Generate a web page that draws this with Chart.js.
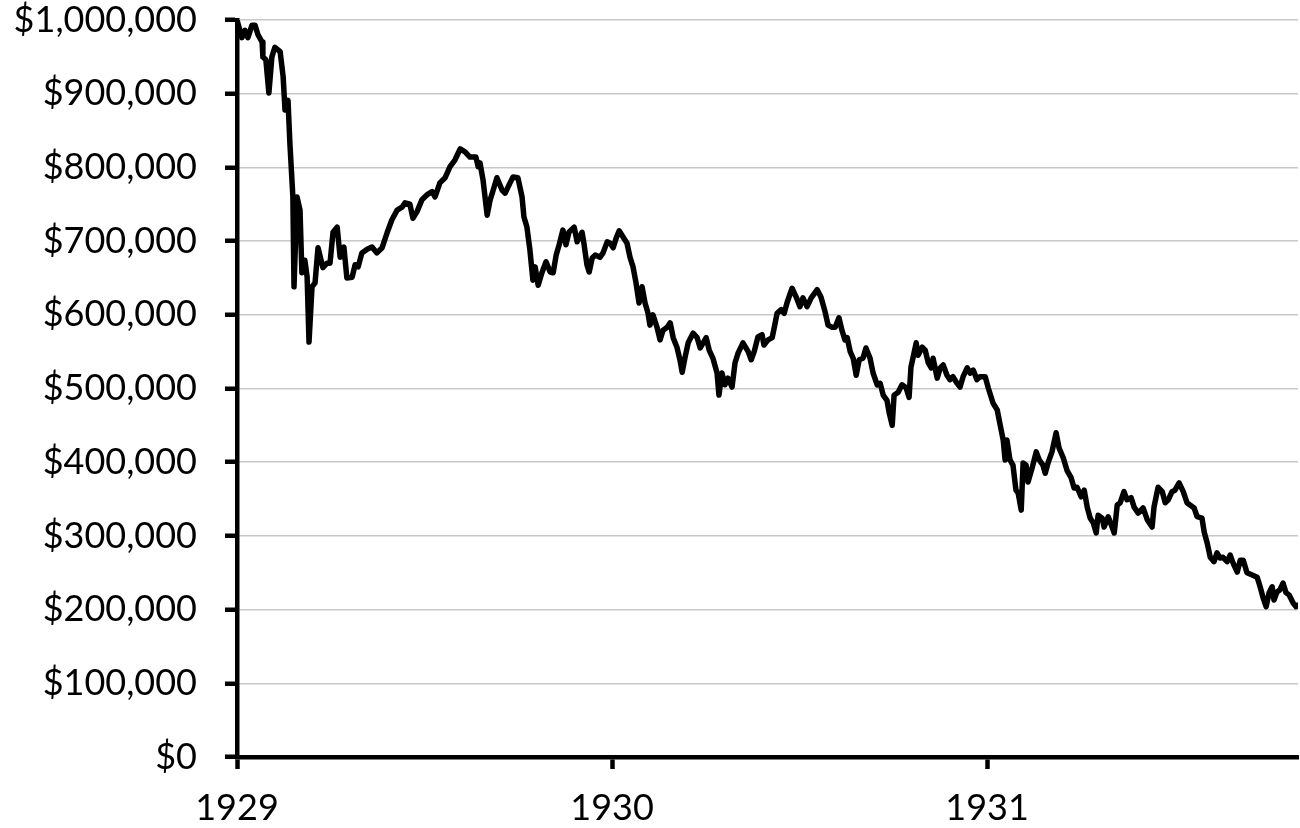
<!DOCTYPE html>
<html>
<head>
<meta charset="utf-8">
<script src="https://cdn.jsdelivr.net/npm/chart.js@4/dist/chart.umd.min.js"></script>
<style>
  html, body { margin: 0; background: #fff; }
  #wrap { width: 1300px; height: 828px; position: relative; }
</style>
</head>
<body>
<div id="wrap"><canvas id="crashChart"></canvas></div>
<script>
// value of $1,000,000 over time
const years = [
  1929.000, 1929.013, 1929.021, 1929.029, 1929.040, 1929.048, 1929.056, 1929.067, 1929.069, 1929.077,
  1929.085, 1929.093, 1929.101, 1929.115, 1929.123, 1929.128, 1929.136, 1929.141, 1929.149, 1929.152,
  1929.160, 1929.168, 1929.173, 1929.181, 1929.187, 1929.192, 1929.200, 1929.208, 1929.216, 1929.229,
  1929.240, 1929.248, 1929.256, 1929.267, 1929.275, 1929.285, 1929.293, 1929.307, 1929.315, 1929.323,
  1929.333, 1929.347, 1929.360, 1929.373, 1929.387, 1929.400, 1929.413, 1929.427, 1929.440, 1929.448,
  1929.461, 1929.469, 1929.480, 1929.493, 1929.507, 1929.520, 1929.528, 1929.541, 1929.555, 1929.568,
  1929.581, 1929.595, 1929.608, 1929.621, 1929.637, 1929.643, 1929.648, 1929.656, 1929.667, 1929.675,
  1929.683, 1929.693, 1929.707, 1929.715, 1929.728, 1929.736, 1929.749, 1929.760, 1929.765, 1929.773,
  1929.781, 1929.789, 1929.795, 1929.803, 1929.813, 1929.824, 1929.835, 1929.843, 1929.851, 1929.859,
  1929.869, 1929.877, 1929.885, 1929.899, 1929.907, 1929.920, 1929.925, 1929.933, 1929.939, 1929.947,
  1929.955, 1929.968, 1929.976, 1929.987, 1929.995, 1930.003, 1930.011, 1930.019, 1930.029, 1930.040,
  1930.048, 1930.056, 1930.064, 1930.072, 1930.080, 1930.088, 1930.096, 1930.101, 1930.109, 1930.120,
  1930.128, 1930.136, 1930.147, 1930.155, 1930.163, 1930.173, 1930.181, 1930.187, 1930.195, 1930.203,
  1930.216, 1930.227, 1930.235, 1930.243, 1930.251, 1930.259, 1930.269, 1930.280, 1930.285, 1930.293,
  1930.301, 1930.309, 1930.320, 1930.328, 1930.336, 1930.349, 1930.363, 1930.371, 1930.379, 1930.389,
  1930.400, 1930.405, 1930.416, 1930.427, 1930.435, 1930.440, 1930.451, 1930.459, 1930.467, 1930.480,
  1930.491, 1930.501, 1930.509, 1930.520, 1930.531, 1930.547, 1930.557, 1930.568, 1930.576, 1930.587,
  1930.595, 1930.605, 1930.613, 1930.621, 1930.627, 1930.635, 1930.643, 1930.651, 1930.659, 1930.669,
  1930.677, 1930.688, 1930.696, 1930.707, 1930.715, 1930.723, 1930.733, 1930.739, 1930.747, 1930.752,
  1930.763, 1930.773, 1930.784, 1930.792, 1930.797, 1930.803, 1930.811, 1930.816, 1930.827, 1930.835,
  1930.843, 1930.851, 1930.856, 1930.867, 1930.875, 1930.883, 1930.893, 1930.901, 1930.909, 1930.920,
  1930.928, 1930.936, 1930.947, 1930.955, 1930.963, 1930.973, 1930.981, 1930.995, 1931.003, 1931.016,
  1931.027, 1931.035, 1931.043, 1931.048, 1931.053, 1931.061, 1931.069, 1931.077, 1931.083, 1931.091,
  1931.096, 1931.104, 1931.109, 1931.120, 1931.131, 1931.139, 1931.149, 1931.155, 1931.163, 1931.173,
  1931.184, 1931.192, 1931.203, 1931.213, 1931.224, 1931.232, 1931.240, 1931.251, 1931.259, 1931.267,
  1931.275, 1931.283, 1931.291, 1931.296, 1931.307, 1931.312, 1931.323, 1931.331, 1931.339, 1931.347,
  1931.355, 1931.365, 1931.373, 1931.384, 1931.392, 1931.403, 1931.416, 1931.427, 1931.440, 1931.445,
  1931.456, 1931.467, 1931.475, 1931.483, 1931.493, 1931.501, 1931.512, 1931.523, 1931.533, 1931.541,
  1931.552, 1931.560, 1931.573, 1931.579, 1931.587, 1931.595, 1931.605, 1931.613, 1931.621, 1931.629,
  1931.640, 1931.648, 1931.656, 1931.667, 1931.675, 1931.683, 1931.693, 1931.707, 1931.720, 1931.728,
  1931.736, 1931.744, 1931.752, 1931.760, 1931.765, 1931.773, 1931.781, 1931.789, 1931.797, 1931.805,
  1931.816, 1931.824, 1931.829
];

const values = [
  1000000, 976000, 986000, 976000, 993000, 993000, 980000, 970000, 950000, 946000,
  901000, 950000, 963000, 957000, 923000, 878000, 891000, 833000, 760000, 638000,
  760000, 742000, 657000, 674000, 651000, 563000, 638000, 643000, 691000, 664000,
  670000, 670000, 712000, 719000, 678000, 692000, 650000, 651000, 668000, 665000,
  684000, 689000, 692000, 684000, 691000, 711000, 729000, 742000, 746000, 752000,
  750000, 731000, 740000, 756000, 763000, 767000, 760000, 779000, 786000, 801000,
  810000, 825000, 821000, 814000, 814000, 801000, 806000, 783000, 735000, 756000,
  769000, 786000, 769000, 765000, 779000, 787000, 786000, 760000, 733000, 719000,
  688000, 647000, 665000, 640000, 657000, 672000, 658000, 657000, 681000, 695000,
  715000, 695000, 712000, 719000, 699000, 712000, 697000, 668000, 658000, 677000,
  681000, 678000, 684000, 699000, 697000, 691000, 704000, 714000, 706000, 697000,
  678000, 665000, 643000, 616000, 638000, 616000, 602000, 586000, 600000, 583000,
  566000, 579000, 583000, 589000, 569000, 556000, 539000, 522000, 543000, 562000,
  575000, 569000, 555000, 562000, 569000, 552000, 541000, 521000, 491000, 521000,
  505000, 514000, 502000, 535000, 548000, 562000, 550000, 539000, 550000, 570000,
  573000, 559000, 566000, 569000, 589000, 602000, 607000, 602000, 617000, 636000,
  624000, 611000, 623000, 611000, 623000, 634000, 624000, 604000, 586000, 583000,
  583000, 596000, 579000, 566000, 569000, 550000, 541000, 518000, 539000, 541000,
  555000, 541000, 521000, 505000, 507000, 491000, 484000, 467000, 450000, 491000,
  495000, 505000, 501000, 488000, 529000, 543000, 562000, 545000, 556000, 552000,
  535000, 528000, 541000, 514000, 528000, 532000, 518000, 512000, 516000, 507000,
  502000, 516000, 528000, 521000, 525000, 512000, 516000, 516000, 501000, 480000,
  471000, 450000, 430000, 403000, 430000, 403000, 396000, 362000, 358000, 335000,
  399000, 396000, 373000, 392000, 414000, 403000, 396000, 385000, 400000, 414000,
  440000, 419000, 406000, 389000, 379000, 365000, 366000, 353000, 362000, 339000,
  324000, 318000, 304000, 328000, 324000, 312000, 326000, 315000, 304000, 342000,
  345000, 360000, 349000, 352000, 339000, 331000, 338000, 322000, 312000, 339000,
  366000, 360000, 345000, 349000, 360000, 362000, 372000, 360000, 345000, 342000,
  338000, 326000, 324000, 305000, 290000, 271000, 265000, 277000, 270000, 271000,
  265000, 274000, 263000, 251000, 267000, 267000, 250000, 247000, 244000, 231000,
  216000, 204000, 223000, 231000, 213000, 224000, 227000, 236000, 223000, 220000,
  209000, 204000, 206000
];

const xTickYears = [1929, 1930, 1931];
const yTickValues = [0, 100000, 200000, 300000, 400000, 500000, 600000, 700000, 800000, 900000, 1000000];

const points = years.map((x, i) => ({ x: x, y: values[i] }));

const ctx = document.getElementById('crashChart').getContext('2d');

new Chart(ctx, {
    type: 'line',
    data: {
        datasets: [{
            data: points,
            borderColor: '#000',
            borderWidth: 5.5,
            pointRadius: 0,
            tension: 0,
            fill: false,
            borderJoinStyle: 'round',
            borderCapStyle: 'round'
        }]
    },
    options: {
        responsive: true,
        maintainAspectRatio: false,
        animation: false,
        layout: { padding: { top: 20, right: 2, left: 0, bottom: 0 } },
        plugins: {
            legend: { display: false },
            tooltip: { enabled: false }
        },
        scales: {
            x: {
                type: 'linear',
                min: 1929,
                max: 1931.829,
                afterBuildTicks: s => { s.ticks = xTickYears.map(v => ({ value: v })); },
                afterFit: s => { s.height = 71; s.paddingLeft = 0; s.paddingRight = 0; },
                border: { color: '#000', width: 4.5 },
                grid: {
                    drawOnChartArea: false,
                    drawTicks: true,
                    tickLength: 12,
                    tickColor: '#000',
                    tickWidth: 4.5
                },
                ticks: {
                    font: { family: 'Lato', size: 36 },
                    color: '#000',
                    padding: 18,
                    maxRotation: 0,
                    callback: v => String(v)
                }
            },
            y: {
                min: 0,
                max: 1000000,
                afterBuildTicks: s => { s.ticks = yTickValues.map(v => ({ value: v })); },
                afterFit: s => { s.width = 237; s.paddingTop = 0; s.paddingBottom = 0; },
                border: { color: '#000', width: 4.5 },
                grid: {
                    color: '#c8c8c8',
                    lineWidth: 1.5,
                    tickLength: 12,
                    tickColor: '#000',
                    tickWidth: 4.5
                },
                ticks: {
                    font: { family: 'Lato', size: 36 },
                    color: '#000',
                    padding: 28,
                    callback: v => '$' + v.toLocaleString('en-US')
                }
            }
        }
    }
});
</script>
</body>
</html>
